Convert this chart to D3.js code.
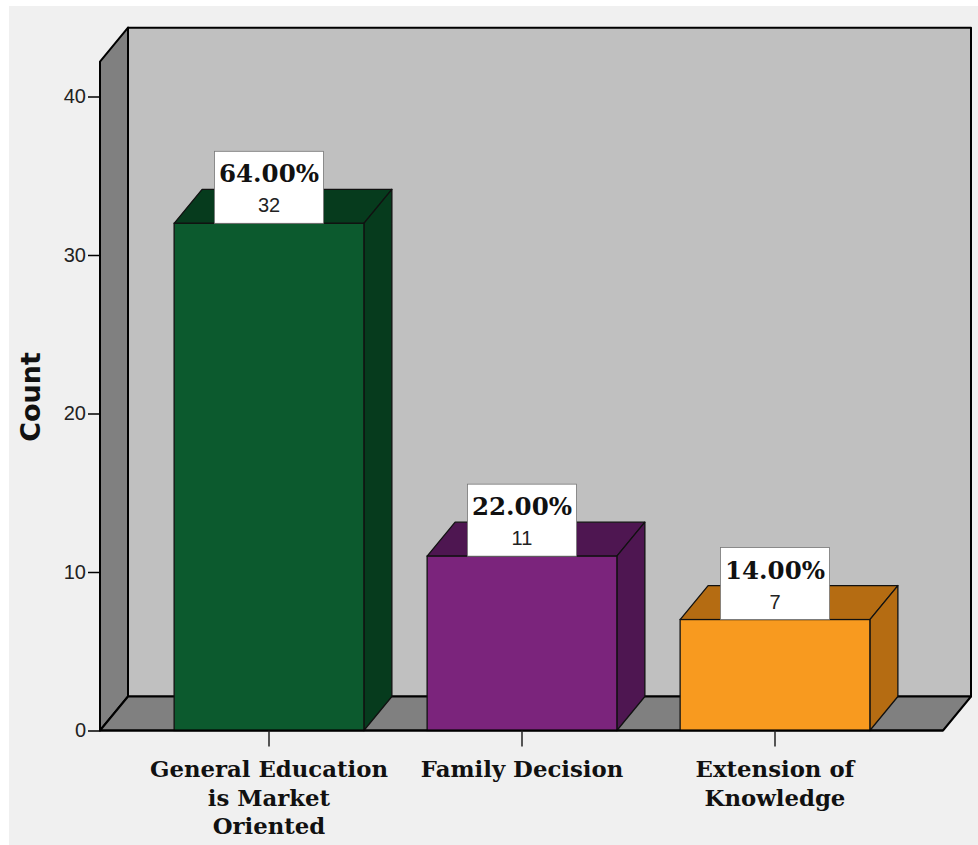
<!DOCTYPE html>
<html>
<head>
<meta charset="utf-8">
<script src="https://cdn.jsdelivr.net/npm/d3@7"></script>
<style>
  html, body { margin: 0; padding: 0; background: #ffffff; }
  svg { display: block; }
</style>
</head>
<body>
<svg id="chart" width="978" height="845"></svg>
<script>
// ---- data ----
const categories = ["General Education is Market Oriented", "Family Decision", "Extension of Knowledge"];
const labelLines = [["General Education", "is Market", "Oriented"], ["Family Decision"], ["Extension of", "Knowledge"]];
const counts = [32, 11, 7];
const percents = ["64.00%", "22.00%", "14.00%"];
const yTicks = [0, 10, 20, 30, 40];
const frontColors = ["#0c5a2e", "#7b247c", "#f89a1f"];
const darkColors  = ["#063b1d", "#4e1651", "#b56c12"];

// ---- layout ----
const svg = d3.select("#chart");
const W = 978, H = 845;
const DX = 28, DY = 34;           // 3D depth offset
const axisX = 100, floorRight = 943;
const wallTopValue = 42.2;

const y = d3.scaleLinear().domain([0, 40]).range([730.5, 96.5]);
const x = d3.scaleBand().domain(categories).range([142.5, 901.5]).paddingInner(0.25).paddingOuter(0.125);

// background
svg.append("rect").attr("x", 9).attr("y", 6).attr("width", W - 9).attr("height", H - 6).attr("fill", "#f0f0f0");

const y0 = y(0), yTop = y(wallTopValue);
const poly = pts => pts.map(p => p.join(",")).join(" ");

// back wall
svg.append("polygon")
  .attr("points", poly([[axisX + DX, yTop - DY], [floorRight + DX, yTop - DY], [floorRight + DX, y0 - DY], [axisX + DX, y0 - DY]]))
  .attr("fill", "#c0c0c0").attr("stroke", "#000").attr("stroke-width", 2).attr("stroke-linejoin", "round");
// side wall
svg.append("polygon")
  .attr("points", poly([[axisX, yTop], [axisX + DX, yTop - DY], [axisX + DX, y0 - DY], [axisX, y0]]))
  .attr("fill", "#808080").attr("stroke", "#000").attr("stroke-width", 2).attr("stroke-linejoin", "round");
// floor
svg.append("polygon")
  .attr("points", poly([[axisX, y0], [axisX + DX, y0 - DY], [floorRight + DX, y0 - DY], [floorRight, y0]]))
  .attr("fill", "#808080").attr("stroke", "#000").attr("stroke-width", 2).attr("stroke-linejoin", "round");

// bars
const bars = svg.append("g").selectAll("g").data(categories).join("g");
bars.each(function(c, i) {
  const g = d3.select(this);
  const x0 = x(c), x1 = x(c) + x.bandwidth(), yt = y(counts[i]);
  g.append("polygon")
    .attr("points", poly([[x0, yt], [x0 + DX, yt - DY], [x1 + DX, yt - DY], [x1, yt]]))
    .attr("fill", darkColors[i]).attr("stroke", "#111").attr("stroke-width", 1.3).attr("stroke-linejoin", "round");
  g.append("polygon")
    .attr("points", poly([[x1, yt], [x1 + DX, yt - DY], [x1 + DX, y0 - DY], [x1, y0]]))
    .attr("fill", darkColors[i]).attr("stroke", "#111").attr("stroke-width", 1.3).attr("stroke-linejoin", "round");
  g.append("rect")
    .attr("x", x0).attr("y", yt).attr("width", x.bandwidth()).attr("height", y0 - yt)
    .attr("fill", frontColors[i]).attr("stroke", "#111").attr("stroke-width", 1.3);
});

// floor front edge redraw (thick)
svg.append("line").attr("x1", axisX).attr("x2", floorRight).attr("y1", y0).attr("y2", y0)
  .attr("stroke", "#000").attr("stroke-width", 2.2);

// value boxes
bars.each(function(c, i) {
  const g = d3.select(this);
  const cx = x(c) + x.bandwidth() / 2, yt = y(counts[i]);
  const bw = 109, bh = 72;
  g.append("rect")
    .attr("x", cx - bw / 2).attr("y", yt - bh).attr("width", bw).attr("height", bh)
    .attr("fill", "#ffffff").attr("stroke", "#777").attr("stroke-width", 0.8);
  g.append("text")
    .attr("x", cx).attr("y", yt - bh + 31)
    .attr("text-anchor", "middle")
    .attr("font-family", "'DejaVu Serif', serif").attr("font-weight", "bold").attr("font-size", 24.5)
    .attr("fill", "#111").text(percents[i]);
  g.append("text")
    .attr("x", cx).attr("y", yt - bh + 61)
    .attr("text-anchor", "middle")
    .attr("font-family", "'Liberation Sans', Arial, sans-serif").attr("font-size", 20)
    .attr("fill", "#222").text(counts[i]);
});

// y axis
const yAxis = svg.append("g").attr("transform", `translate(${axisX},0)`)
  .call(d3.axisLeft(y).tickValues(yTicks).tickSize(12).tickPadding(2));
yAxis.select(".domain").remove();
yAxis.selectAll(".tick line").attr("stroke", "#000").attr("stroke-width", 1.5);
yAxis.selectAll(".tick text")
  .attr("font-family", "'Liberation Sans', Arial, sans-serif").attr("font-size", 20).attr("fill", "#222");

// x axis ticks
const xAxis = svg.append("g").attr("transform", `translate(0,${y0})`)
  .call(d3.axisBottom(x).tickSize(16).tickFormat(""));
xAxis.select(".domain").remove();
xAxis.selectAll(".tick line").attr("stroke", "#222").attr("stroke-width", 1.5);

// category labels
svg.append("g").selectAll("text").data(categories).join("text")
  .attr("text-anchor", "middle")
  .attr("font-family", "'DejaVu Serif', serif").attr("font-weight", "bold").attr("font-size", 22.8)
  .attr("fill", "#111")
  .each(function(c, i) {
    const t = d3.select(this);
    labelLines[i].forEach((ln, k) => {
      t.append("tspan").attr("x", x(c) + x.bandwidth() / 2).attr("y", 777 + k * 28.5).text(ln);
    });
  });

// y title
svg.append("text")
  .attr("transform", "translate(40,397) rotate(-90)")
  .attr("text-anchor", "middle")
  .attr("font-family", "'DejaVu Sans', sans-serif").attr("font-weight", "bold").attr("font-size", 27)
  .attr("fill", "#111").text("Count");
</script>
</body>
</html>
